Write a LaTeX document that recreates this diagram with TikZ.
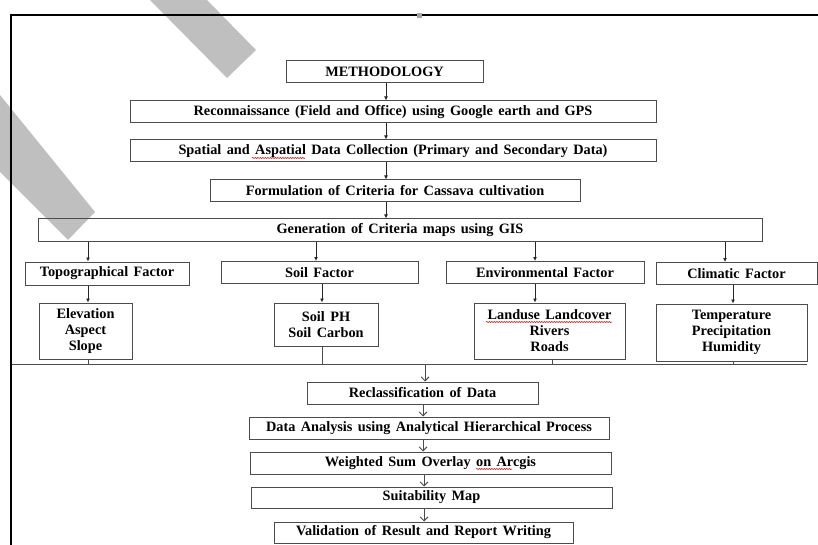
\documentclass[tikz,border=0pt]{standalone}
\usepackage{fontspec}
\setmainfont[WordSpace=1.5]{Liberation Serif}
\usetikzlibrary{arrows.meta,positioning,decorations.pathmorphing}
\tikzset{every picture/.style={line width=0.75pt}}

\begin{document}
\begin{tikzpicture}[x=1pt,y=-1pt,
    box/.style={draw=black!70, line width=1pt, inner sep=0pt, align=center,
      font=\fontsize{14.3}{16}\selectfont\bfseries},
    arr/.style={black!85, line width=0.9pt, -{Latex[length=4pt,width=4pt]}},
    varr/.style={black!70, line width=0.9pt, -{Straight Barb[length=4pt,width=8pt]}},
    squiggle/.style={red!85!black, line width=0.5pt, decorate,
      decoration={snake, amplitude=0.6pt, segment length=2.5pt}}]
    \useasboundingbox (0,0) rectangle (818,545);

    % watermark
    \fill[black!25] (150,0) -- (227,78) -- (256,50) -- (207,0) -- cycle;
    \fill[black!25] (0,95) -- (95,212) -- (68,240) -- (0,172) -- cycle;

    % frame
    \draw[line width=2.5pt] (11,545) -- (11,15) -- (818,15);
    \fill[black!35] (417,13) rectangle (422,18);

    % main chain
    \node[box, minimum width=197, minimum height=22] (meth) at (384.5,72) {METHODOLOGY};
    \node[box, minimum width=526, minimum height=22] (recon) at (393,112)
      {Reconnaissance (Field and Office) using Google earth and GPS};
    \node[box, minimum width=526, minimum height=22] (spat) at (393,151)
      {Spatial and Aspatial Data Collection (Primary and Secondary Data)};
    \node[box, minimum width=370, minimum height=22] (form) at (395,191)
      {Formulation of Criteria for Cassava cultivation};
    \node[box, minimum width=724, minimum height=22] (gen) at (400,230)
      {Generation of Criteria maps using GIS};

    % factors
    \node[box, minimum width=164, minimum height=23] (topo) at (107,273.5) {Topographical Factor};
    \node[box, minimum width=197, minimum height=22] (soil) at (319.5,272.5) {Soil Factor};
    \node[box, minimum width=198, minimum height=22] (env) at (545,272.5) {Environmental Factor};
    \node[box, minimum width=161, minimum height=22] (clim) at (736.5,273.5) {Climatic Factor};

    % criteria
    \node[box, minimum width=93, minimum height=56] (elev) at (85.5,331) {Elevation\\Aspect\\Slope};
    \node[box, minimum width=104, minimum height=43] (soilph) at (326,324.5) {Soil PH\\Soil Carbon};
    \node[box, minimum width=151, minimum height=56] (land) at (549.5,331)
      {Landuse Landcover\\Rivers\\Roads};
    \node[box, minimum width=151, minimum height=57] (temp) at (731.5,332.5)
      {Temperature\\Precipitation\\Humidity};

    % analysis
    \node[box, minimum width=231, minimum height=22] (recl) at (422.5,393) {Reclassification of Data};
    \node[box, minimum width=360, minimum height=22] (ahp) at (429,428)
      {Data Analysis using Analytical Hierarchical Process};
    \node[box, minimum width=361, minimum height=22] (wso) at (430.5,463)
      {Weighted Sum Overlay on Arcgis};
    \node[box, minimum width=361, minimum height=21] (suit) at (431.5,497.5) {Suitability Map};
    \node[box, minimum width=299, minimum height=21] (valid) at (423.5,532.5)
      {Validation of Result and Report Writing};

    % arrows, top part
    \draw[arr] (meth.south -| 386,0) -- (recon.north -| 386,0);
    \draw[arr] (recon.south -| 386,0) -- (spat.north -| 386,0);
    \draw[arr] (spat.south -| 386,0) -- (form.north -| 386,0);
    \draw[arr] (form.south -| 386,0) -- (gen.north -| 386,0);

    \draw[arr] (gen.south -| 88,0) -- (topo.north -| 88,0);
    \draw[arr] (gen.south -| 316,0) -- (soil.north -| 316,0);
    \draw[arr] (gen.south -| 535,0) -- (env.north -| 535,0);
    \draw[arr] (gen.south -| 725,0) -- (clim.north -| 725,0);

    \draw[arr] (topo.south -| 88,0) -- (elev.north -| 88,0);
    \draw[arr] (soil.south -| 322,0) -- (soilph.north -| 322,0);
    \draw[arr] (env.south -| 535,0) -- (land.north -| 535,0);
    \draw[arr] (clim.south -| 733,0) -- (temp.north -| 733,0);

    % collecting line
    \coordinate (busL) at (12,364);
    \coordinate (busR) at (807,364);
    \draw[black!70, line width=1pt] (busL) -- (busR);
    \draw[black!70] (elev.south -| 88,0) -- (busL -| 88,0);
    \draw[black!70] (soilph.south -| 322,0) -- (busL -| 322,0);
    \draw[black!70] (land.south -| 552,0) -- (busL -| 552,0);
    \draw[black!70] (temp.south -| 733,0) -- (busL -| 733,0);

    % arrows, bottom part
    \draw[varr] (busL -| 425,0) -- (recl.north -| 425,0);
    \draw[varr] (recl.south -| 423,0) -- (ahp.north -| 423,0);
    \draw[varr] (ahp.south -| 423,0) -- (wso.north -| 423,0);
    \draw[varr] (wso.south -| 424,0) -- (suit.north -| 424,0);
    \draw[varr] (suit.south -| 424,0) -- (valid.north -| 424,0);

    % spelling marks
    \draw[squiggle] (252,158) -- (305,158);
    \draw[squiggle] (486,322) -- (612,322);
    \draw[squiggle] (476,469) -- (512,469);
\end{tikzpicture}
\end{document}
